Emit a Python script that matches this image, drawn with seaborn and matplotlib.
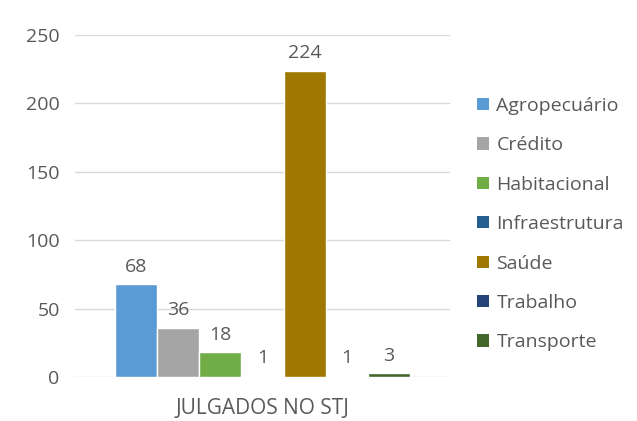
import matplotlib
matplotlib.use("Agg")
import matplotlib.pyplot as plt
import seaborn as sns
import pandas as pd
from matplotlib.patches import Patch

categories = ["JULGADOS NO STJ"]
series = ["Agropecuário", "Crédito", "Habitacional", "Infraestrutura", "Saúde", "Trabalho", "Transporte"]
values = [68, 36, 18, 1, 224, 1, 3]
colors = ["#5B9BD5", "#A5A5A5", "#70AD47", "#255E91", "#9E7800", "#264478", "#43682B"]
yticks = [0, 50, 100, 150, 200, 250]

df = pd.DataFrame({"categoria": categories * len(series), "serie": series, "valor": values})

sns.set_theme(style="white")
plt.rcParams["font.family"] = ["Open Sans", "DejaVu Sans"]

fig = plt.figure(figsize=(6.37, 4.21), dpi=100)
ax = fig.add_axes([75/637, 1-377/421, (450-75)/637, (377-35)/421])

sns.barplot(data=df, x="categoria", y="valor", hue="serie", hue_order=series,
            palette=colors, width=0.785, ax=ax, legend=False, saturation=1, errorbar=None)

for c in ax.containers:
    ax.bar_label(c, padding=6, fontsize=14, color="#595959")

ax.set_ylim(0, 250)
ax.set_yticks(yticks)
ax.set_xlim(-0.5, 0.5)
ax.yaxis.grid(True, color="#D9D9D9", linewidth=1)
ax.set_axisbelow(True)
for s in ax.spines.values():
    s.set_visible(False)
ax.set_xlabel("")
ax.set_ylabel("")
ax.tick_params(axis="y", labelsize=14, labelcolor="#595959", length=0, pad=11)
ax.tick_params(axis="x", labelsize=15, labelcolor="#595959", length=0, pad=15)

handles = [Patch(facecolor=col, edgecolor="none") for col in colors]
fig.legend(handles, series, loc="upper left", bbox_to_anchor=(477/637, 1-97/421),
           frameon=False, fontsize=14, labelcolor="#595959",
           handlelength=0.6, handleheight=0.6, handletextpad=0.4, labelspacing=1.1,
           borderaxespad=0, borderpad=0)

fig.savefig("out.png", dpi=100)
